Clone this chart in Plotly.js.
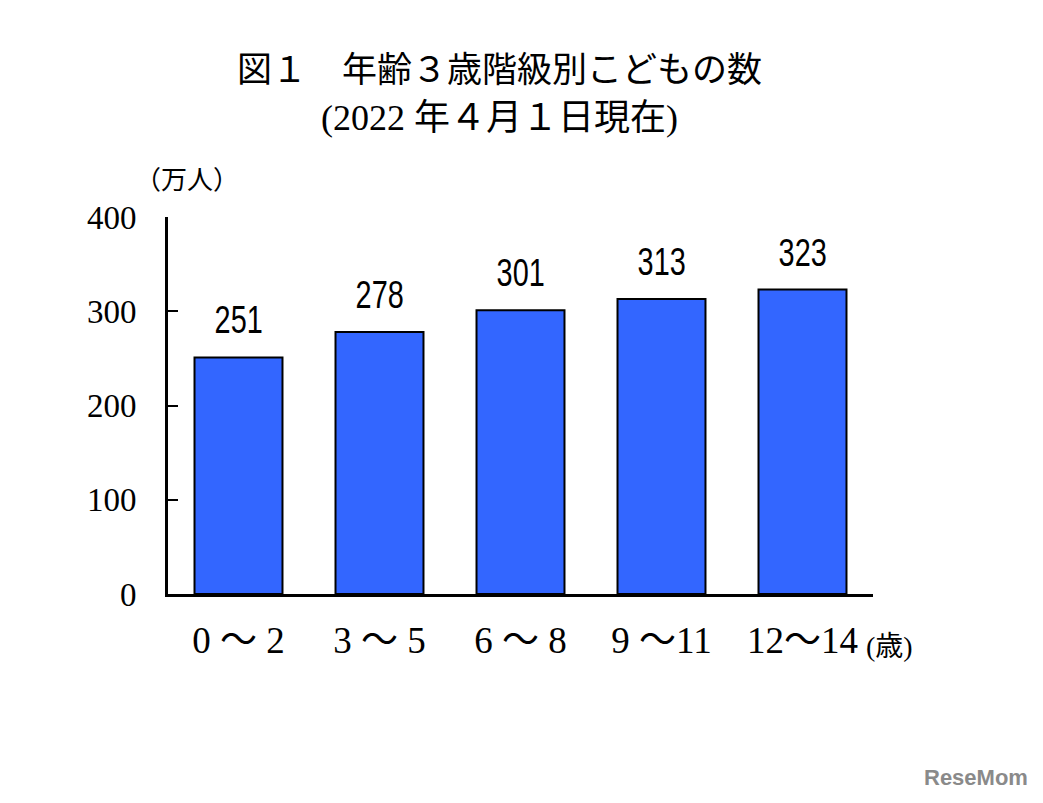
<!DOCTYPE html>
<html>
<head>
<meta charset="utf-8">
<script src="https://cdn.plot.ly/plotly-3.0.1.min.js"></script>
<style>html,body{margin:0;padding:0;background:#fff;}#chart{width:1043px;height:803px;}</style>
</head>
<body>
<div id="chart"></div>
<script>
const categories = ["0 ～ 2", "3 ～ 5", "6 ～ 8", "9 ～11", "12～14"];
const values = [251, 278, 301, 313, 323];
const yTicks = [0, 100, 200, 300, 400];
const titleLine1 = "図１　年齢３歳階級別こどもの数";
const titleLine2 = "(2022 年４月１日現在)";
const yUnit = "（万人）";
const xUnit = "(歳)";

const serif = "Liberation Serif, Noto Sans CJK JP, serif";
const cjk = "Liberation Serif, Noto Sans CJK JP, sans-serif";

const trace = {
  type: "bar",
  x: categories,
  y: values,
  marker: {color: "#3366FF", line: {color: "#000", width: 2}},
  hoverinfo: "none"
};

const annotations = values.map((v, i) => ({
  x: categories[i], y: v, xref: "x", yref: "y",
  text: String(v), showarrow: false, yanchor: "bottom", yshift: 14,
  font: {family: "Liberation Sans, Arial, sans-serif", size: 38, color: "#000"}
}));
const nBarLabels = annotations.length;

annotations.push(
  {xref: "paper", yref: "paper", x: 0.470, y: 1, yshift: 147, xanchor: "center", yanchor: "middle",
   text: titleLine1, showarrow: false, font: {family: cjk, size: 35, color: "#000"}},
  {xref: "paper", yref: "paper", x: 0.470, y: 1, yshift: 99, xanchor: "center", yanchor: "middle",
   text: titleLine2, showarrow: false, font: {family: cjk, size: 36, color: "#000"}},
  {xref: "paper", yref: "paper", x: 0, xshift: 19, y: 1, yshift: 37, xanchor: "center", yanchor: "middle",
   text: yUnit, showarrow: false, font: {family: cjk, size: 26, color: "#000"}},
  {xref: "paper", yref: "paper", x: 1, xshift: 16, y: 0, yshift: -52, xanchor: "center", yanchor: "middle",
   text: xUnit, showarrow: false, font: {family: cjk, size: 28, color: "#000"}},
  {xref: "paper", yref: "paper", x: 1, xshift: 157, y: 0, yshift: -183, xanchor: "right", yanchor: "middle",
   text: "<b>ReseMom</b>", showarrow: false, font: {family: "Liberation Sans, Arial, sans-serif", size: 22, color: "#8a8a8a"}}
);

const layout = {
  width: 1043, height: 803,
  margin: {l: 168, r: 170, t: 217, b: 209},
  paper_bgcolor: "#fff", plot_bgcolor: "#fff",
  showlegend: false,
  bargap: 0.376,
  xaxis: {
    type: "category", range: [-0.5, 4.5],
    showline: true, linecolor: "#000", linewidth: 3,
    ticks: "", showgrid: false, zeroline: false,
    tickfont: {family: serif, size: 37, color: "#000"},
    ticklabelstandoff: 12
  },
  yaxis: {
    range: [0, 400], tickvals: yTicks, ticktext: yTicks.map(String),
    showline: true, linecolor: "#000", linewidth: 3,
    ticks: "inside", ticklen: 10, tickwidth: 2, tickcolor: "#000",
    showgrid: false, zeroline: false,
    tickfont: {family: serif, size: 33, color: "#000"},
    ticklabelstandoff: 22
  },
  annotations: annotations
};

Plotly.newPlot("chart", [trace], layout, {displayModeBar: false, staticPlot: true}).then(gd => {
  // condense the bar value labels horizontally (narrow gothic look)
  const groups = gd.querySelectorAll(".annotation");
  groups.forEach((g, idx) => {
    if (idx >= nBarLabels) return;
    const t = g.querySelector("text.annotation-text");
    if (!t) return;
    const bb = t.getBBox();
    const cx = bb.x + bb.width / 2;
    t.setAttribute("transform", `translate(${cx},0) scale(0.76,1) translate(${-cx},0)`);
  });
});
</script>
</body>
</html>
